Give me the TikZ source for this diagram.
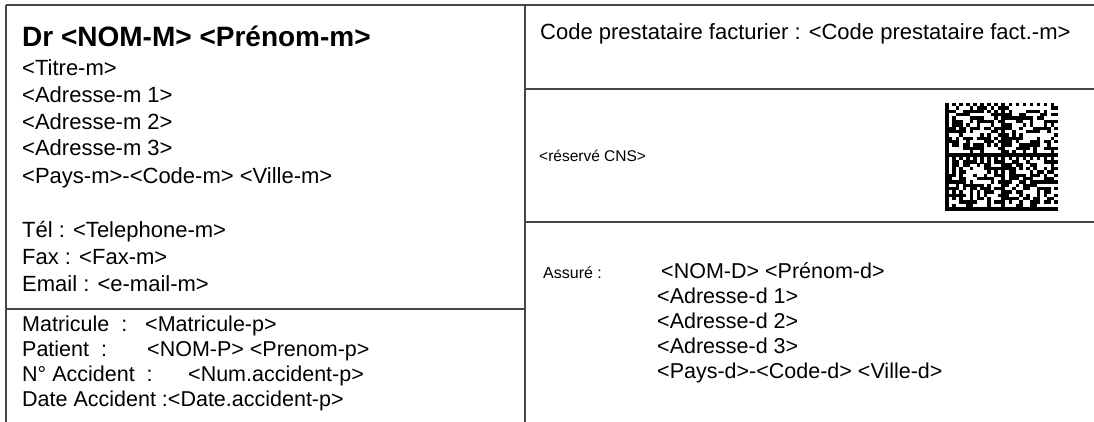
\documentclass[tikz,border=0pt]{standalone}
\usepackage{fontspec}
\setmainfont{Liberation Sans}
\usepackage{xcolor}
\usepackage{tikz}
\usetikzlibrary{positioning}
\definecolor{gristrait}{RGB}{70,70,70}
\tikzstyle{ligne} = [line width=1.8pt, draw=gristrait]
\tikzstyle{txt} = [anchor=base west, inner sep=0pt, font=\fontsize{22}{26}\selectfont]
\tikzstyle{txtb} = [anchor=base west, inner sep=0pt, font=\fontsize{21.5}{25}\selectfont]
\tikzstyle{petit} = [anchor=base west, inner sep=0pt, font=\fontsize{15.5}{18}\selectfont]

\begin{document}
\begin{tikzpicture}[x=1pt, y=-1pt]
\useasboundingbox (0,0) rectangle (1094,422);

% Cadre
\draw[ligne] (6,5) -- (1094,5);
\draw[ligne] (6,5) -- (6,422);
\draw[ligne] (525,5) -- (525,422);
\draw[ligne] (6,309) -- (525,309);
\draw[ligne] (525,89) -- (1094,89);
\draw[ligne] (525,222) -- (1094,222);

% Medecin
\node[anchor=base west, inner sep=0pt, font=\fontsize{28}{32}\selectfont\bfseries] (nom) at (22,47) {Dr <NOM-M> <Prénom-m>};
\node[txt] (titre) at (22,76) {<Titre-m>};
\node[txt] (adr1) at (22,103) {<Adresse-m 1>};
\node[txt] (adr2) at (22,129.5) {<Adresse-m 2>};
\node[txt] (adr3) at (22,156) {<Adresse-m 3>};
\node[txt] (ville) at (22,183) {<Pays-m>-<Code-m> <Ville-m>};
\node[txt] (tel) at (22,237) {Tél : <Telephone-m>};
\node[txt] (fax) at (22,264) {Fax : <Fax-m>};
\node[txt] (mail) at (22,291) {Email : <e-mail-m>};

% Patient
\node[txtb] (matl) at (22,331) {Matricule\ \ :};
\node[txtb] (matv) at (145,331) {<Matricule-p>};
\node[txtb] (patl) at (22,356) {Patient\ \ :};
\node[txtb] (patv) at (147,356) {<NOM-P> <Prenom-p>};
\node[txtb] (accl) at (22,381) {N° Accident\ \ :};
\node[txtb] (accv) at (188,381) {<Num.accident-p>};
\node[txtb] (date) at (22,406) {Date Accident :<Date.accident-p>};

% Prestataire
\node[txt] (code) at (540,40) {Code prestataire facturier : <Code prestataire fact.-m>};
\node[petit] (cns) at (539,162) {<réservé CNS>};

% Code 2D
\pgfmathsetseed{2718}
\foreach \ci in {0,...,31} {
    \foreach \rj in {0,...,31} {
        \pgfmathtruncatemacro{\li}{mod(\ci,16)}
        \pgfmathtruncatemacro{\lj}{mod(\rj,16)}
        \pgfmathrandominteger{\dm}{0}{1}
        \ifnum\lj=15 \def\dm{1}\fi
        \ifnum\li=0 \def\dm{1}\fi
        \ifnum\lj=0 \pgfmathtruncatemacro{\dm}{1-mod(\li,2)}\fi
        \ifnum\li=15 \pgfmathtruncatemacro{\dm}{mod(\lj,2)}\fi
        \ifnum\dm=1
            \fill[black] (945+\ci*3.53,103+\rj*3.36) rectangle ++(3.58,3.41);
        \fi
    }
}

% Assure
\node[anchor=base west, inner sep=0pt, font=\fontsize{16}{18}\selectfont] (assl) at (543,278) {Assuré :};
\node[txtb] (assnom) at (661,278) {<NOM-D> <Prénom-d>};
\node[txtb] (assadr1) at (657,303.5) {<Adresse-d 1>};
\node[txtb] (assadr2) at (657,328.5) {<Adresse-d 2>};
\node[txtb] (assadr3) at (657,353.5) {<Adresse-d 3>};
\node[txtb] (assville) at (657,378.5) {<Pays-d>-<Code-d> <Ville-d>};
\end{tikzpicture}
\end{document}
